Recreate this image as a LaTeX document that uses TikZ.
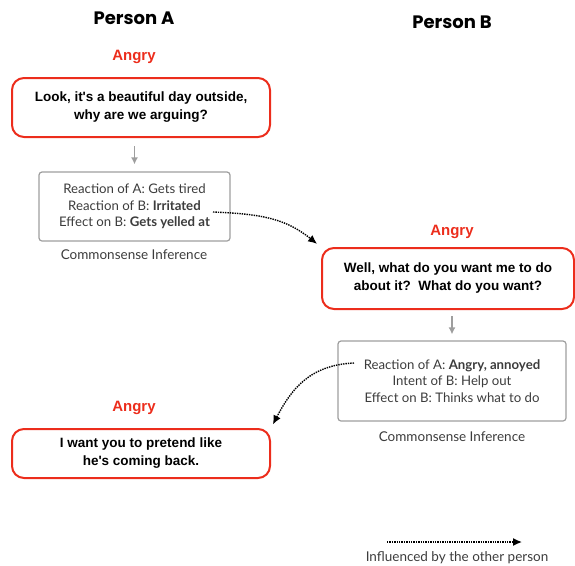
\documentclass[tikz,border=0pt]{standalone}
\usepackage{fontspec}
\setmainfont{Lato}
\newfontfamily\headfont{Poppins}
\newfontfamily\uttfont{Liberation Sans}
\usepackage{tikz}
\usetikzlibrary{arrows.meta,calc,positioning}
\definecolor{angryred}{RGB}{236,45,28}
\definecolor{boxgrey}{RGB}{158,158,158}
\definecolor{infotext}{RGB}{60,60,60}
\tikzset{
    >=Latex,semithick,
    person/.style = {font=\headfont\bfseries\fontsize{18}{22}\selectfont},
    emotion/.style = {text=angryred, font=\uttfont\bfseries\fontsize{15}{18}\selectfont},
    utterance/.style = {draw=angryred, line width=2pt, rounded corners=12pt, align=center,
        font=\uttfont\bfseries\fontsize{13.5}{18}\selectfont},
    inference/.style = {draw=boxgrey, line width=1.2pt, rounded corners=3pt, align=center,
        text=infotext, font=\fontsize{13.2}{16.5}\selectfont},
    caption/.style = {text=infotext, font=\fontsize{13.5}{15}\selectfont},
    flow/.style = {-{Latex[length=7pt,width=7pt]}, draw=boxgrey, line width=1.5pt},
    influence/.style = {-{Latex[length=9pt,width=8pt]}, densely dotted, line width=1.4pt}
}
\begin{document}
\begin{tikzpicture}[x=1pt,y=-1pt]
    \useasboundingbox (0,0) rectangle (575,565);

    \node[person] (pa) at (134,18) {Person A};
    \node[person] (pb) at (452,22) {Person B};

    % person A, first turn
    \node[emotion] (e1) at (134,57) {Angry};
    \node[utterance, minimum width=258pt, minimum height=59pt] (u1) at (141,107.5)
        {Look, it's a beautiful day outside,\\why are we arguing?};
    \node[inference, minimum width=191pt, minimum height=69pt] (i1) at (134.5,206.5)
        {Reaction of A: Gets tired\\Reaction of B: \textbf{Irritated}\\Effect on B: \textbf{Gets yelled at}};
    \node[caption] (c1) at (134,255) {Commonsense Inference};
    \draw[flow, shorten <=8pt, shorten >=7pt] (u1.south -| i1.north) -- (i1.north);

    % person B
    \node[emotion] (e2) at (452,232) {Angry};
    \node[utterance, minimum width=252pt, minimum height=61pt] (u2) at (448,278.5)
        {Well, what do you want me to do\\about it?\ \ What do you want?};
    \node[inference, minimum width=228pt, minimum height=80pt] (i2) at (452,381)
        {Reaction of A: \textbf{Angry, annoyed}\\Intent of B: Help out\\Effect on B: Thinks what to do};
    \node[caption] (c2) at (452,437) {Commonsense Inference};
    \draw[flow, shorten <=6pt, shorten >=6pt] (u2.south -| i2.north) -- (i2.north);

    % person A, second turn
    \node[emotion] (e3) at (134,408) {Angry};
    \node[utterance, minimum width=258pt, minimum height=49pt] (u3) at (141,453.5)
        {I want you to pretend like\\he's coming back.};

    \coordinate (s1) at (213,212);
    \coordinate (s2) at (354,363);
    \draw[influence, shorten >=5pt] (s1) .. controls +(50,2) and +(-35,-28) .. (u2.north west);
    \draw[influence, shorten >=4pt] (s2) .. controls +(-45,2) and +(20,-38) .. (u3.north east);

    % legend
    \coordinate (l1) at (387,542);
    \coordinate (l2) at (522,542);
    \draw[influence] (l1) -- (l2);
    \node[caption] (leg) at (457,558) {Influenced by the other person};
\end{tikzpicture}
\end{document}
